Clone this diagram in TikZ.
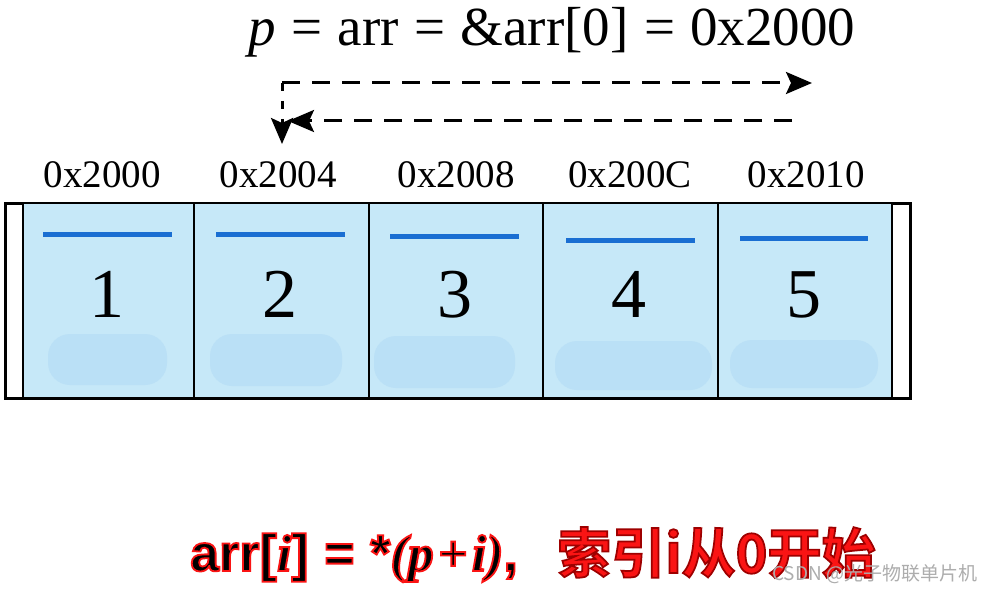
\documentclass[tikz,border=0pt]{standalone}
\usepackage{fontspec}
\setmainfont{Liberation Serif}
\newfontfamily\capsans[FakeBold=3.5]{Liberation Sans Bold}
\newfontfamily\capserif[FakeBold=3.5]{Liberation Serif Bold Italic}
\newfontfamily\capcjk[FakeBold=3.2]{Noto Sans CJK SC Bold}
\newfontfamily\cjk{Noto Sans CJK SC}
\usetikzlibrary{arrows.meta}
\definecolor{cellblue}{RGB}{198,232,248}
\definecolor{pillblue}{RGB}{186,224,246}
\definecolor{barblue}{RGB}{26,110,210}
\definecolor{hotred}{RGB}{250,20,20}
\tikzset{
  frame/.style={draw=black, line width=3pt, fill=white, inner sep=0pt, minimum height=195pt},
  cell/.style={draw=black, line width=2.5pt, fill=cellblue, inner sep=0pt, minimum height=195pt},
  pill/.style={fill=pillblue, rounded corners=22pt},
  bar/.style={draw=barblue, line width=5pt},
  digit/.style={font=\fontsize{70}{70}\selectfont, inner sep=0pt},
  addr/.style={font=\fontsize{39}{39}\selectfont, inner sep=0pt, anchor=base},
  dashline/.style={line width=3pt, dash pattern=on 18pt off 12pt},
  tip/.style={-{Stealth[length=26pt,width=22pt,inset=5pt]}},
  captext/.style={inner sep=0pt, anchor=base west},
}
% set the stroke colour of the text outline (fill colour comes from \color)
\newcommand{\strokergb}[1]{\special{pdf:literal direct #1 RG}}
\begin{document}
\begin{tikzpicture}[x=1pt,y=-1pt]
\useasboundingbox[fill=white] (0,0) rectangle (982,591);

% title formula
\node[font=\fontsize{55}{55}\selectfont, inner sep=0pt, anchor=base] (title) at (552,46)
  {\textit{p}\hspace{0.28em}=\hspace{0.28em}arr\hspace{0.28em}=\hspace{0.28em}\&arr[0]\hspace{0.28em}=\hspace{0.28em}0x2000};

% arrows
\coordinate (a0) at (282,83);
\coordinate (a1) at (812,83);
\coordinate (a2) at (282,144);
\coordinate (b0) at (792,121);
\coordinate (b1) at (288,121);
\draw[dashline, tip] (a0) -- (a1);
\draw[dashline, dash pattern=on 8pt off 10pt, tip] (a0) -- (a2);
\draw[dashline, tip] (b0) -- (b1);

% addresses
\node[addr] (ad1) at (102,187) {0x2000};
\node[addr] (ad2) at (278,187) {0x2004};
\node[addr] (ad3) at (456,187) {0x2008};
\node[addr] (ad4) at (630,187) {0x200C};
\node[addr] (ad5) at (806,187) {0x2010};

% array
\node[frame, minimum width=905pt] (arr) at (457.5,300.5) {};
\node[cell, minimum width=171pt] (c1) at (108.5,300.5) {};
\node[cell, minimum width=175pt] (c2) at (281.5,300.5) {};
\node[cell, minimum width=174pt] (c3) at (456,300.5) {};
\node[cell, minimum width=175pt] (c4) at (630.5,300.5) {};
\node[cell, minimum width=174pt] (c5) at (805,300.5) {};

\fill[pill] (48,334) rectangle (167,385);
\fill[pill] (210,334) rectangle (342,386);
\fill[pill] (374,336) rectangle (515,388);
\fill[pill] (555,341) rectangle (712,390);
\fill[pill] (730,340) rectangle (878,388);

\draw[bar] (43,234) -- (172,234);
\draw[bar] (216,234) -- (345,234);
\draw[bar] (390,236) -- (519,236);
\draw[bar] (566,240) -- (695,240);
\draw[bar] (740,238) -- (868,238);

\node[digit, anchor=base] (n1) at (107,317) {1};
\node[digit, anchor=base] (n2) at (280,317) {2};
\node[digit, anchor=base] (n3) at (455,317) {3};
\node[digit, anchor=base] (n4) at (629,317) {4};
\node[digit, anchor=base] (n5) at (804,317) {5};

% bottom caption
\node[captext, font=\fontsize{52}{52}\selectfont] (capa) at (190,571)
  {\color{black}\strokergb{0.98 0.08 0.08}\capsans arr[{\capserif i\/}]\hspace{0.3em}=\hspace{0.3em}*{\capserif (p\hspace{0.08em}+\hspace{0.08em}i)},};
\node[captext, font=\fontsize{54}{54}\selectfont] (capb) at (557,573)
  {\color{hotred}\strokergb{0.62 0 0}\capcjk 索引i从0开始};

% watermark
\node[captext, font=\fontsize{19}{19}\selectfont\cjk, text=black!32] (wm) at (772,580) {CSDN @光子物联单片机};
\end{tikzpicture}
\end{document}
